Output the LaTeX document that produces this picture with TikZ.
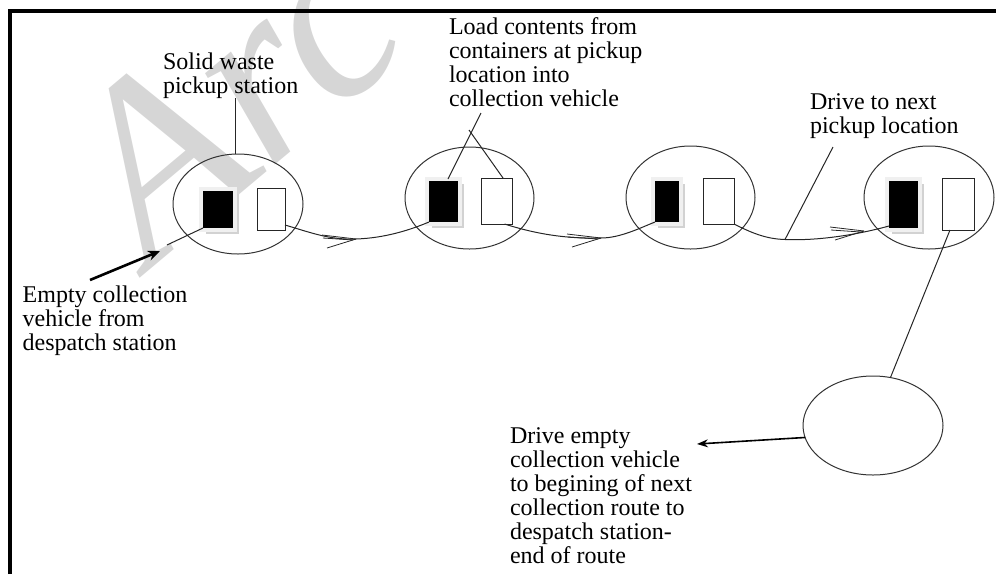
\documentclass[tikz,border=0pt]{standalone}
\usepackage{fontspec}
\setmainfont{Liberation Serif}
\newfontfamily\wmfont{Liberation Serif}
\usetikzlibrary{shapes.geometric,arrows.meta,calc,backgrounds}
\begin{document}
\begin{tikzpicture}[x=1pt,y=-1pt,
  lbl/.style={anchor=base west, inner sep=0pt, outer sep=0pt, align=left,
              font=\fontsize{24}{24}\selectfont},
  ell/.style={ellipse, draw=black!80, line width=1pt, inner sep=0pt, outer sep=0pt},
  bin/.style={rectangle, fill=black, inner sep=0pt, outer sep=0pt},
  wbin/.style={rectangle, draw=black!85, fill=white, line width=1pt, inner sep=0pt, outer sep=0pt},
  lead/.style={draw=black!85, line width=1pt},
  route/.style={draw=black!85, line width=1pt},
  arrowmark/.style={draw=black!85, line width=0.8pt},
  shadowdark/.style={fill=gray!35},
  shadowlight/.style={fill=gray!12},
]
\useasboundingbox (0,0) rectangle (996,574);

% frame
\draw[line width=4pt, line join=miter] (10,574) -- (10,10.5) -- (996,10.5);

% ellipses (pickup locations)
\node[ell, minimum width=130pt, minimum height=100pt] (e1) at (238,204) {};
\node[ell, minimum width=129pt, minimum height=102pt] (e2) at (469.5,198) {};
\node[ell, minimum width=129pt, minimum height=103pt] (e3) at (690.5,197.5) {};
\node[ell, minimum width=130pt, minimum height=103pt] (e4) at (929,197.5) {};
\node[ell, minimum width=140pt, minimum height=99pt] (e5) at (873,425.5) {};

% containers
\node[bin, minimum width=30pt, minimum height=37pt] (b1) at (218,209.5) {};
\node[wbin, minimum width=28pt, minimum height=42pt] (w1) at (271,209) {};
\node[bin, minimum width=29pt, minimum height=41pt] (b2) at (443.5,201.5) {};
\node[wbin, minimum width=31pt, minimum height=46pt] (w2) at (496.5,201) {};
\node[bin, minimum width=24pt, minimum height=41pt] (b3) at (667,201.5) {};
\node[wbin, minimum width=31pt, minimum height=46pt] (w3) at (718.5,201) {};
\node[bin, minimum width=29pt, minimum height=47pt] (b4) at (903.5,204.5) {};
\node[wbin, minimum width=32pt, minimum height=52pt] (w4) at (958,204) {};

% labels (anchored at the baseline of the last line)
\node[lbl] (t1) at (163,93) {Solid waste\\pickup station};
\node[lbl] (t2) at (449,106.5) {Load contents from\\containers at pickup\\location into\\collection vehicle};
\node[lbl] (t3) at (810,133.3) {Drive to next\\pickup location};
\node[lbl] (t4) at (22.7,350) {Empty collection\\vehicle from\\despatch station};
\node[lbl] (t5) at (510,563.3) {Drive empty\\collection vehicle\\to begining of next\\collection route to\\despatch station-\\end of route};

% route curves
\coordinate (m1) at (356,239);
\coordinate (m2) at (601,238);
\coordinate (m3) at (864,231);
\draw[route] ($(w1.south east)+(0,-5)$) .. controls (312,233) and (330,240) .. (m1)
  .. controls (385,238) and (410,230) .. (b2.south west);
\draw[route] ($(w2.south)+(8,0)$) .. controls (530,232) and (560,239) .. (m2)
  .. controls (620,238) and (640,228) .. (b3.south west);
\coordinate (c3) at (785,239.5);
\draw[route] (w3.south east) .. controls (750,232) and (765,239) .. (c3)
  .. controls (820,241) and (860,234) .. ($(b4.south west)+(0,-2)$);

% arrow marks on the route
\foreach \m in {m1,m2,m3}{
  \draw[arrowmark] (\m) -- ++(-34,-4);
  \draw[arrowmark] ($(\m)+(-3,1)$) -- ++(-30,-2);
  \draw[arrowmark] (\m) -- ++(-29,9);
}

% leader lines
\coordinate (s1) at (235,98);
\draw[lead] (s1) -- (s1 |- e1.north);
\coordinate (l1top) at (481,113);
\coordinate (l1bot) at (448,179);
\coordinate (l2end) at (469,130);
\draw[lead] (l1top) -- (l1bot);
\draw[lead] ($(w2.north east)+(-9,0)$) -- (l2end);
\coordinate (d1) at (833,147);
\draw[lead] (d1) -- (c3);
\draw[lead] ($(w4.south)+(-8,0)$) -- (e5.70);

% arrows
\coordinate (a5) at (697,444);
\draw[line width=1.6pt, -{Stealth[length=11pt,width=8pt]}] (e5.190) -- (a5);
\coordinate (a1s) at (90,280);
\coordinate (a1e) at (160,251);
\draw[line width=2.6pt, -{Stealth[length=12pt,width=10pt]}] (a1s) -- (a1e);
\coordinate (f1) at (167,245);
\draw[lead] (f1) -- (b1.south west);

% background: watermark and container shadows
\begin{scope}[on background layer]
  \begin{scope}
    \clip (0,0) rectangle (996,574);
    \node[anchor=base west, inner sep=0pt, rotate=40, text=gray!32,
          font=\wmfont\itshape\fontsize{250}{250}\selectfont] (wm) at (150,270) {Arc};
  \end{scope}
  \foreach \b in {b1,b2,b3,b4}{
    \fill[shadowdark] ($(\b.north west)+(3,3)$) rectangle ($(\b.south east)+(6,6)$);
    \fill[shadowlight] ($(\b.north west)+(-4,-4)$) rectangle ($(\b.south east)+(4,4)$);
  }
\end{scope}
\end{tikzpicture}
\end{document}
